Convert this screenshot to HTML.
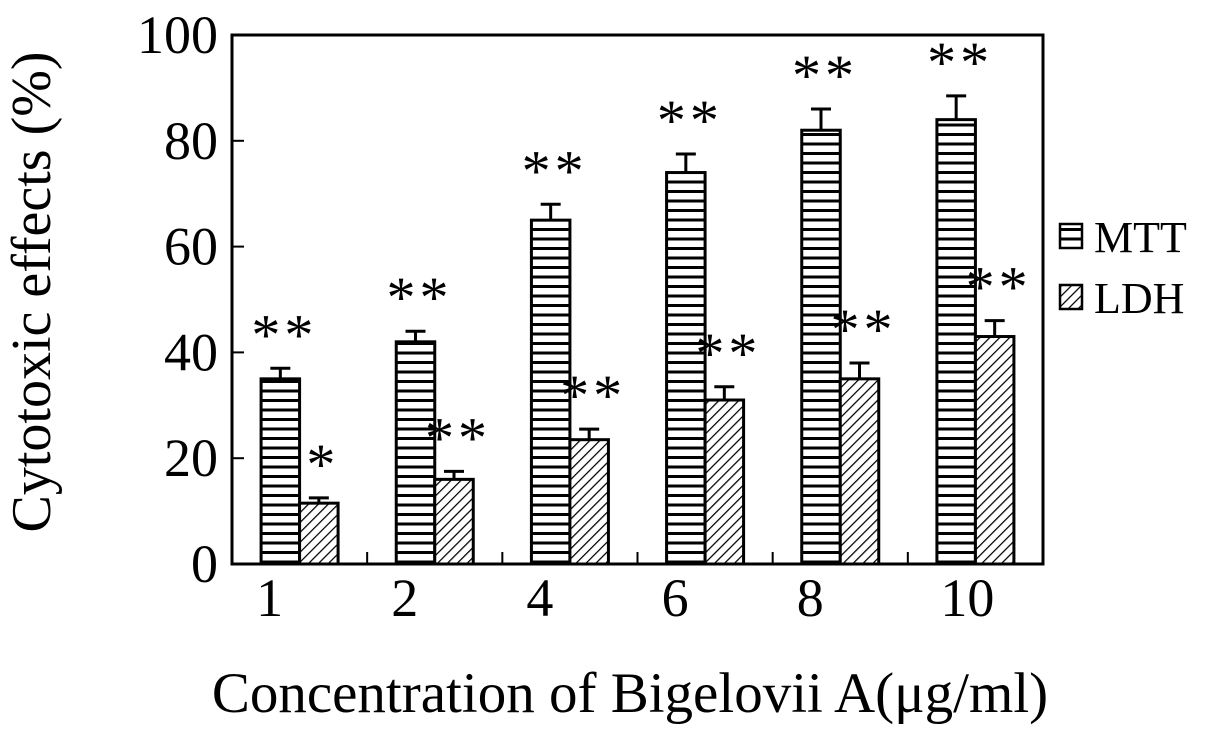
<!DOCTYPE html>
<html><head><meta charset="utf-8"><style>
html,body{margin:0;padding:0;background:#fff;}
svg text{font-family:"Liberation Serif",serif;fill:#000;}
</style></head><body>
<svg id="chart" width="1205" height="751" xmlns="http://www.w3.org/2000/svg">
<defs>
<pattern id="hstripe" patternUnits="userSpaceOnUse" width="10" height="9.5">
<rect width="10" height="9.5" fill="#fff"/><line x1="0" y1="1.5" x2="10" y2="1.5" stroke="#000" stroke-width="3"/>
</pattern>
<pattern id="diag" patternUnits="userSpaceOnUse" width="7" height="7" patternTransform="rotate(45)">
<rect width="7" height="7" fill="#fff"/><line x1="0" y1="0" x2="0" y2="7" stroke="#000" stroke-width="2.5"/>
</pattern>
</defs>
<g id="plot"></g>
<text x="50" y="292" font-size="56" text-anchor="middle" transform="rotate(-90 50 292)">Cytotoxic effects (%)</text>
<text x="630" y="712" font-size="57" text-anchor="middle">Concentration of Bigelovii A(μg/ml)</text>
<g>
<rect x="1060" y="224" width="22" height="24" fill="url(#hstripe)" stroke="#000" stroke-width="2.5"/>
<text x="1094" y="252" font-size="44">MTT</text>
<rect x="1060" y="285" width="22" height="24" fill="url(#diag)" stroke="#000" stroke-width="2.5"/>
<text x="1094" y="313" font-size="44">LDH</text>
</g>
</svg>
<script>
const categories = ["1","2","4","6","8","10"];
const mttValues = [35, 42, 65, 74, 82, 84];
const mttErrors = [2, 2, 3, 3.5, 4, 4.5];
const mttSig = ["**","**","**","**","**","**"];
const ldhValues = [11.5, 16, 23.5, 31, 35, 43];
const ldhErrors = [1, 1.5, 2, 2.5, 3, 3];
const ldhSig = ["*","**","**","**","**","**"];
const yTicks = [0, 20, 40, 60, 80, 100];

const L = 232, R = 1043, T = 35, B = 564;
const yMax = 100;
const ns = "http://www.w3.org/2000/svg";
const g = document.getElementById('plot');
const band = (R - L) / categories.length;
const barW = 38.5;
function y(v){ return B - v / yMax * (B - T); }
function cx(i){ return L + band * (i + 0.5); }
function mk(tag, attrs){ const e = document.createElementNS(ns, tag); for (const k in attrs) e.setAttribute(k, attrs[k]); g.appendChild(e); return e; }

yTicks.forEach((t) => {
  const tk = mk('line', {x1: L, x2: L + 12, y1: y(t), y2: y(t), stroke: '#000', 'stroke-width': 2});
  
  
  const lb = mk('text', {x: L - 14, y: y(t) + 18, 'font-size': 54, 'text-anchor': 'end'});
  lb.textContent = t;
  
  
});
for (let i = 1; i < categories.length; i++) {
  const tk = mk('line', {x1: L + band * i, x2: L + band * i, y1: B, y2: B - 12, stroke: '#000', 'stroke-width': 2});
  
  
}

function drawBar(i, v, e, sig, x0, fill, name){
  const r = mk('rect', {x: x0, y: y(v), width: barW, height: B - y(v), fill: fill, stroke: '#000', 'stroke-width': 3});
  
  
  const xm = x0 + barW / 2;
  const el = mk('path', {d: `M${xm},${y(v)} V${y(v + e)} M${xm - 10},${y(v + e)} H${xm + 10}`, stroke: '#000', 'stroke-width': 3, fill: 'none'});
  
  
  const s = mk('text', {x: xm + 4, y: y(v + e) - 14, 'font-size': 58, 'text-anchor': 'middle', 'letter-spacing': 4});
  s.textContent = sig;
  
  
}
categories.forEach((c, i) => {
  drawBar(i, mttValues[i], mttErrors[i], mttSig[i], cx(i) - barW, 'url(#hstripe)', 'bar-mtt');
  drawBar(i, ldhValues[i], ldhErrors[i], ldhSig[i], cx(i), 'url(#diag)', 'bar-ldh');
  const lb = mk('text', {x: cx(i) - 30 + (c.length > 1 ? 22 : 0), y: B + 52, 'font-size': 54, 'text-anchor': 'middle'});
  lb.textContent = c;
  
  
});
const frame = mk('rect', {x: L, y: T, width: R - L, height: B - T, fill: 'none', stroke: '#000', 'stroke-width': 3});


</script>
</body></html>
